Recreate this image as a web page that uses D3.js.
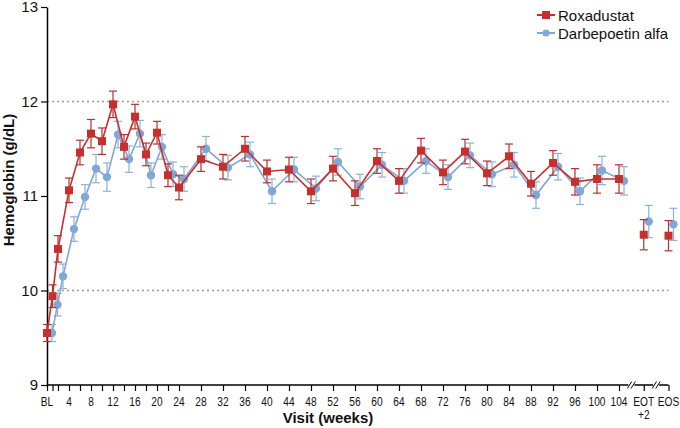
<!DOCTYPE html>
<html>
<head>
<meta charset="utf-8">
<title>Hemoglobin by visit</title>
<script src="https://cdn.jsdelivr.net/npm/d3@7"></script>
<style>
body { margin: 0; background: #fff; }
svg { display: block; font-family: "Liberation Sans", Arial, sans-serif; }
</style>
</head>
<body>
<script>
// visit weeks (BL = 0) up to week 104
var weeks = [0,1,2,4,6,8,10,12,14,16,18,20,22,24,28,32,36,40,44,48,52,56,60,64,68,72,76,80,84,88,92,96,100,104];
var roxa  = [9.55,9.94,10.44,11.06,11.46,11.66,11.58,11.97,11.52,11.84,11.44,11.67,11.22,11.09,11.39,11.31,11.50,11.26,11.28,11.05,11.29,11.03,11.37,11.16,11.48,11.25,11.47,11.24,11.42,11.13,11.35,11.15,11.18,11.18];
var darbe = [9.55,9.85,10.15,10.65,10.99,11.29,11.20,11.65,11.39,11.66,11.22,11.52,11.23,11.18,11.50,11.30,11.44,11.05,11.28,11.08,11.36,11.10,11.33,11.16,11.37,11.20,11.43,11.23,11.33,11.01,11.31,11.05,11.27,11.16];
var roxaSE  = [0.09,0.12,0.14,0.13,0.13,0.15,0.14,0.14,0.13,0.13,0.12,0.12,0.12,0.13,0.13,0.13,0.13,0.12,0.13,0.13,0.13,0.13,0.13,0.13,0.13,0.13,0.13,0.13,0.13,0.13,0.13,0.14,0.15,0.15];
var darbeSE = [0.09,0.12,0.13,0.13,0.13,0.15,0.15,0.14,0.14,0.14,0.13,0.13,0.13,0.13,0.13,0.13,0.13,0.13,0.13,0.13,0.14,0.13,0.13,0.13,0.13,0.13,0.13,0.13,0.13,0.14,0.14,0.14,0.15,0.15];

// end of treatment + 2 and end of study
var endVisits  = ["EOT+2","EOS"];
var endPos     = [108.5, 113];   // placed after the axis break
var roxaEnd    = [10.59, 10.58];
var darbeEnd   = [10.73, 10.70];
var roxaEndSE  = [0.16, 0.16];
var darbeEndSE = [0.17, 0.17];

var labelWeeks = [4,8,12,16,20,24,28,32,36,40,44,48,52,56,60,64,68,72,76,80,84,88,92,96,100,104];
var yTicks = [9,10,11,12,13];
var gridVals = [10,12];

var W = 680, H = 428;
var red = "#c5302d", blue = "#80a7d6";
var blueOff = 5;

var svg = d3.select("body").append("svg").attr("width", W).attr("height", H);

var x = d3.scaleLinear().domain([0,104]).range([47,619]);
var y = d3.scaleLinear().domain([9,13]).range([385,7]);

// gridlines
svg.selectAll(".grid").data(gridVals).enter().append("line")
  .attr("x1", x(0)).attr("x2", x(113))
  .attr("y1", d => y(d)).attr("y2", d => y(d))
  .attr("stroke", "#9a9a9a").attr("stroke-width", 1.3)
  .attr("stroke-dasharray", "2,3");

// y axis
var yAxis = svg.append("g").attr("transform", "translate(" + x(0) + ",0)")
  .call(d3.axisLeft(y).tickValues(yTicks).tickFormat(d3.format("d"))
    .tickSize(6).tickPadding(3).tickSizeOuter(0));
yAxis.select(".domain").attr("stroke", "#000").attr("stroke-width", 1.5);
yAxis.selectAll(".tick line").attr("stroke-width", 1.2);
yAxis.selectAll("text").attr("font-size", 15).attr("fill", "#111")
  .attr("font-family", "'Liberation Sans', Arial, sans-serif");

// x axis
var allTicks = weeks.concat(endPos);
var xAxis = svg.append("g").attr("transform", "translate(0," + y(9) + ")")
  .call(d3.axisBottom(x).tickValues(allTicks).tickSize(6).tickSizeOuter(0).tickFormat(""));
xAxis.select(".domain").attr("d", "M" + x(0) + ",0H" + x(113))
  .attr("stroke", "#000").attr("stroke-width", 1.5);
xAxis.selectAll(".tick line").attr("stroke-width", 1.2);

// x tick labels (condensed look by horizontal scaling)
var xLabels = [{ p: 0, t: "BL", dy: 0 }]
  .concat(labelWeeks.map(w => ({ p: w, t: String(w), dy: 0 })))
  .concat([{ p: endPos[0], t: "EOT", dy: 0 }, { p: endPos[0], t: "+2", dy: 13 }, { p: endPos[1], t: "EOS", dy: 0 }]);
svg.append("g").selectAll("text").data(xLabels).enter().append("text")
  .attr("transform", d => "translate(" + x(d.p) + "," + (406 + d.dy) + ") scale(0.78,1)")
  .attr("text-anchor", "middle").attr("font-size", 13).attr("fill", "#111")
  .text(d => d.t);

// axis breaks
[ (x(104) + x(endPos[0])) / 2, (x(endPos[0]) + x(endPos[1])) / 2 ].forEach(function (bx) {
  svg.append("rect").attr("x", bx - 3).attr("y", y(9) - 2).attr("width", 6).attr("height", 4).attr("fill", "#fff");
  [-1.8, 1.8].forEach(function (o) {
    svg.append("line")
      .attr("x1", bx + o - 2.2).attr("y1", y(9) + 3.5)
      .attr("x2", bx + o + 2.2).attr("y2", y(9) - 3.5)
      .attr("stroke", "#000").attr("stroke-width", 1);
  });
});

// axis titles
svg.append("text").attr("x", 328).attr("y", 423).attr("text-anchor", "middle")
  .attr("font-size", 15).attr("font-weight", "bold").attr("fill", "#111").text("Visit (weeks)");
svg.append("text").attr("transform", "translate(14,180) rotate(-90)").attr("text-anchor", "middle")
  .attr("font-size", 15).attr("font-weight", "bold").attr("fill", "#111").text("Hemoglobin (g/dL)");

function series(vals, se, endVals, endSe, color, barColor, off, shape) {
  var pts = weeks.map((w, i) => ({ x: x(w) + off, v: vals[i], s: se[i] }));
  var ends = endPos.map((p, i) => ({ x: x(p) + off, v: endVals[i], s: endSe[i] }));
  var all = pts.concat(ends);
  var g = svg.append("g");

  // error bars
  var eb = g.selectAll(".eb").data(all).enter().append("g")
    .attr("stroke", barColor).attr("stroke-width", 1.2).attr("fill", "none");
  eb.append("line").attr("x1", d => d.x).attr("x2", d => d.x)
    .attr("y1", d => y(d.v + d.s)).attr("y2", d => y(d.v - d.s));
  eb.append("line").attr("x1", d => d.x - 4).attr("x2", d => d.x + 4)
    .attr("y1", d => y(d.v + d.s)).attr("y2", d => y(d.v + d.s));
  eb.append("line").attr("x1", d => d.x - 4).attr("x2", d => d.x + 4)
    .attr("y1", d => y(d.v - d.s)).attr("y2", d => y(d.v - d.s));

  g.append("path").datum(pts)
    .attr("d", d3.line().x(d => d.x).y(d => y(d.v)))
    .attr("fill", "none").attr("stroke", color).attr("stroke-width", 1.6);

  if (shape === "square") {
    g.selectAll(".m").data(all).enter().append("rect")
      .attr("x", d => d.x - 4).attr("y", d => y(d.v) - 4)
      .attr("width", 8).attr("height", 8).attr("fill", color);
  } else {
    g.selectAll(".m").data(all).enter().append("circle")
      .attr("cx", d => d.x).attr("cy", d => y(d.v)).attr("r", 4.2).attr("fill", color);
  }
}

series(darbe, darbeSE, darbeEnd, darbeEndSE, blue, "#8cb0dc", blueOff, "circle");
series(roxa, roxaSE, roxaEnd, roxaEndSE, red, "#b8302d", 0, "square");

// legend
var legend = [
  { name: "Roxadustat", color: red, shape: "square", y: 15 },
  { name: "Darbepoetin alfa", color: blue, shape: "circle", y: 33 }
];
var lg = svg.append("g");
legend.forEach(function (d) {
  lg.append("line").attr("x1", 537).attr("x2", 555).attr("y1", d.y).attr("y2", d.y)
    .attr("stroke", d.color).attr("stroke-width", 2);
  if (d.shape === "square") {
    lg.append("rect").attr("x", 542).attr("y", d.y - 4).attr("width", 8).attr("height", 8).attr("fill", d.color);
  } else {
    lg.append("circle").attr("cx", 546).attr("cy", d.y).attr("r", 3.6).attr("fill", d.color);
  }
  lg.append("text").attr("x", 558).attr("y", d.y + 5.5).attr("font-size", 15).attr("fill", "#111").text(d.name);
});
</script>
</body>
</html>
